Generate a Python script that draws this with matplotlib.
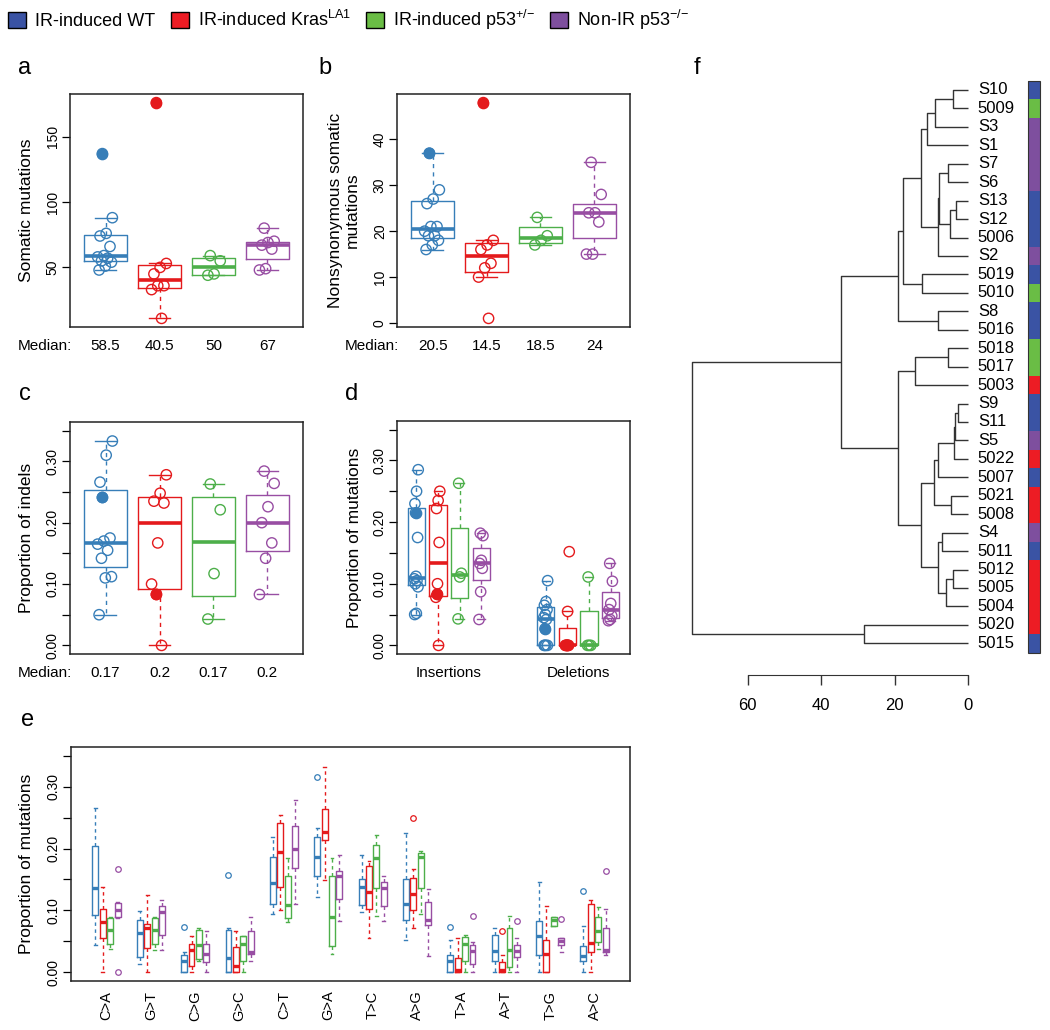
import numpy as np
import matplotlib
matplotlib.use('Agg')
import matplotlib.pyplot as plt
import matplotlib.transforms as mtransforms
from matplotlib.patches import Patch, Rectangle

plt.rcParams['font.family'] = ['Liberation Sans', 'DejaVu Sans']
plt.rcParams['mathtext.default'] = 'regular'

W, H = 1050, 1030

group_names = ['IR-induced WT', r'IR-induced Kras$^{LA1}$',
               r'IR-induced p53$^{{+}/{-}}$', r'Non-IR p53$^{{-}/{-}}$']
box_cols = ['#377EB8', '#E41A1C', '#4DAF4A', '#984EA3']
key_cols = ['#3A53A4', '#ED1C24', '#6ABD45', '#7E4F9E']
# first value of WT and Kras lists is the highlighted (filled) sample
highlight = [True, True, False, False]

# a: somatic mutations
som_wt = [137, 88, 76, 74, 66, 59, 58, 57, 55, 54, 51, 48]
som_kras = [176, 53, 50, 45, 36, 36, 33, 11]
som_p53het = [59, 55, 45, 44]
som_p53null = [80, 70, 69, 67, 64, 49, 48]

# b: nonsynonymous somatic mutations
nonsyn_wt = [37, 29, 27, 26, 21, 21, 20, 19, 19, 18, 17, 16]
nonsyn_kras = [48, 18, 17, 16, 13, 12, 10, 1]
nonsyn_p53het = [23, 19, 18, 17]
nonsyn_p53null = [35, 28, 24, 24, 22, 15, 15]

# c: proportion of indels
indel_wt = [0.241, 0.333, 0.31, 0.266, 0.175, 0.17, 0.165, 0.155, 0.142, 0.112, 0.11, 0.05]
indel_kras = [0.083, 0.278, 0.248, 0.235, 0.232, 0.167, 0.1, 0.0]
indel_p53het = [0.263, 0.221, 0.117, 0.043]
indel_p53null = [0.284, 0.264, 0.226, 0.2, 0.167, 0.142, 0.083]

# d: insertions / deletions
ins_wt = [0.215, 0.285, 0.25, 0.23, 0.175, 0.112, 0.108, 0.105, 0.1, 0.095, 0.052, 0.05]
ins_kras = [0.083, 0.25, 0.235, 0.222, 0.167, 0.1, 0.078, 0.0]
ins_p53het = [0.263, 0.117, 0.111, 0.043]
ins_p53null = [0.182, 0.178, 0.138, 0.133, 0.125, 0.087, 0.042]
del_wt = [0.027, 0.105, 0.071, 0.065, 0.058, 0.05, 0.045, 0.042, 0.0, 0.0, 0.0, 0.0]
del_kras = [0.0, 0.152, 0.055, 0.0, 0.0, 0.0, 0.0, 0.0]
del_p53het = [0.111, 0.0, 0.0, 0.0]
del_p53null = [0.133, 0.104, 0.068, 0.058, 0.048, 0.042, 0.04]

# e: substitution spectrum, box statistics per group (12 classes)
subs = ['C>A', 'G>T', 'C>G', 'G>C', 'C>T', 'G>A', 'T>C', 'A>G', 'T>A', 'A>T', 'T>G', 'A>C']
e_lo = [[0.044, 0.014, 0.0, 0.0, 0.095, 0.122, 0.098, 0.053, 0.0, 0.0, 0.0, 0.0],
        [0.0, 0.0, 0.0, 0.0, 0.100, 0.149, 0.056, 0.072, 0.0, 0.0, 0.0, 0.0],
        [0.038, 0.036, 0.019, 0.0, 0.082, 0.030, 0.091, 0.095, 0.0, 0.0, 0.075, 0.038],
        [0.087, 0.036, 0.0, 0.019, 0.110, 0.083, 0.083, 0.026, 0.0, 0.0, 0.033, 0.028]]
e_q1 = [[0.093, 0.025, 0.0, 0.0, 0.110, 0.156, 0.108, 0.084, 0.0, 0.019, 0.028, 0.019],
        [0.055, 0.039, 0.011, 0.0, 0.138, 0.213, 0.102, 0.100, 0.0, 0.0, 0.0, 0.033],
        [0.045, 0.046, 0.022, 0.018, 0.087, 0.042, 0.136, 0.137, 0.019, 0.009, 0.075, 0.049],
        [0.090, 0.060, 0.017, 0.030, 0.168, 0.119, 0.107, 0.076, 0.014, 0.024, 0.044, 0.033]]
e_med = [[0.136, 0.063, 0.019, 0.023, 0.145, 0.187, 0.138, 0.110, 0.018, 0.035, 0.059, 0.026],
         [0.082, 0.071, 0.036, 0.011, 0.194, 0.227, 0.130, 0.126, 0.003, 0.003, 0.029, 0.048],
         [0.069, 0.069, 0.044, 0.046, 0.109, 0.090, 0.184, 0.186, 0.046, 0.036, 0.084, 0.066],
         [0.100, 0.098, 0.029, 0.033, 0.200, 0.155, 0.137, 0.084, 0.034, 0.034, 0.051, 0.036]]
e_q3 = [[0.204, 0.084, 0.028, 0.069, 0.186, 0.218, 0.151, 0.151, 0.028, 0.060, 0.083, 0.043],
        [0.103, 0.078, 0.045, 0.041, 0.241, 0.264, 0.172, 0.153, 0.023, 0.017, 0.053, 0.110],
        [0.087, 0.087, 0.068, 0.058, 0.155, 0.156, 0.205, 0.192, 0.057, 0.072, 0.089, 0.090],
        [0.112, 0.107, 0.045, 0.066, 0.237, 0.164, 0.146, 0.113, 0.044, 0.044, 0.056, 0.071]]
e_hi = [[0.265, 0.099, 0.033, 0.072, 0.219, 0.233, 0.189, 0.225, 0.052, 0.072, 0.146, 0.075],
        [0.138, 0.125, 0.058, 0.067, 0.254, 0.332, 0.180, 0.167, 0.055, 0.028, 0.107, 0.117],
        [0.090, 0.090, 0.072, 0.059, 0.184, 0.184, 0.222, 0.196, 0.060, 0.091, 0.090, 0.106],
        [0.114, 0.117, 0.067, 0.090, 0.278, 0.189, 0.156, 0.134, 0.049, 0.055, 0.056, 0.102]]
# outliers as (class index, value)
e_out = [[(2, 0.073), (3, 0.158), (5, 0.316), (8, 0.073), (11, 0.131)],
         [(7, 0.250), (9, 0.067)],
         [],
         [(0, 0.167), (0, 0.0), (8, 0.091), (9, 0.083), (10, 0.086), (11, 0.163)]]

# f: dendrogram
leaves = ['S10', '5009', 'S3', 'S1', 'S7', 'S6', 'S13', 'S12', '5006', 'S2', '5019',
          '5010', 'S8', '5016', '5018', '5017', '5003', 'S9', 'S11', 'S5', '5022',
          '5007', '5021', '5008', 'S4', '5011', '5012', '5005', '5004', '5020', '5015']
leaf_group = [0, 2, 3, 3, 3, 3, 0, 0, 0, 3, 0, 2, 0, 0, 2, 2, 1, 0, 0, 3, 1,
              0, 1, 1, 3, 0, 1, 1, 1, 1, 0]
# (left, right, height); ints refer to earlier merges
merges = [('S10', '5009', 4.2), (0, 'S3', 9.0), (1, 'S1', 11.3), ('S7', 'S6', 5.4),
          ('S13', 'S12', 3.3), (4, '5006', 4.9), (3, 5, 7.9), (6, 'S2', 8.3),
          (2, 7, 12.9), ('5019', '5010', 12.5), (8, 9, 17.8), ('S8', '5016', 8.3),
          (10, 11, 19.1), ('5018', '5017', 5.5), (13, '5003', 14.5), ('S9', 'S11', 2.6),
          (15, 'S5', 3.4), (16, '5022', 3.8), (17, '5007', 8.1), ('5021', '5008', 4.7),
          (18, 19, 9.2), ('S4', '5011', 7.0), ('5012', '5005', 4.2), (22, '5004', 6.1),
          (21, 23, 8.3), (20, 24, 12.9), (14, 25, 19.0), (12, 26, 34.6),
          ('5020', '5015', 28.3), (27, 28, 75.1)]


def r_box_stats(values):
    # Tukey hinges + 1.5 IQR whiskers, like R's boxplot.stats
    v = np.sort(np.asarray(values, float))
    n = len(v)
    n4 = np.floor((n + 3) / 2) / 2
    d = np.array([1, n4, (n + 1) / 2, n + 1 - n4, n])
    fn = 0.5 * (v[np.floor(d).astype(int) - 1] + v[np.ceil(d).astype(int) - 1])
    iqr = fn[3] - fn[1]
    inside = v[(v >= fn[1] - 1.5 * iqr) & (v <= fn[3] + 1.5 * iqr)]
    return dict(med=fn[2], q1=fn[1], q3=fn[3], whislo=inside.min(), whishi=inside.max(), fliers=[])


def jitter(n, amp):
    return amp * (((np.arange(n) * 0.618034 + 0.3) % 1) * 2 - 1)


def draw_box(ax, st, pos, col, width, lw=1.0, medlw=2.6, dash=(3, 3), flier_ms=4):
    ax.bxp([st], positions=[pos], widths=width, capwidths=width * 0.5, manage_ticks=False,
           showfliers=True,
           boxprops=dict(color=col, lw=lw),
           whiskerprops=dict(color=col, lw=lw, linestyle=(0, dash)),
           capprops=dict(color=col, lw=lw),
           medianprops=dict(color=col, lw=medlw, solid_capstyle='butt'),
           flierprops=dict(marker='o', markersize=flier_ms, markerfacecolor='none',
                           markeredgecolor=col, markeredgewidth=0.9))


def strip_panel(ax, data, positions, width=0.8, amp=0.15):
    for g, (vals, pos) in enumerate(zip(data, positions)):
        col = box_cols[g % 4]
        draw_box(ax, r_box_stats(vals), pos, col, width)
        x = pos + jitter(len(vals), amp)
        ax.scatter(x, vals, s=55, facecolors='none', edgecolors=col, linewidths=1.0, zorder=3)
        if highlight[g % 4]:
            ax.scatter(x[:1], vals[:1], s=55, facecolors=col, edgecolors=col, linewidths=1.0, zorder=4)


def style_axes(ax, ticks, labels):
    for s in ax.spines.values():
        s.set_linewidth(1.1)
        s.set_color('#222222')
    ax.set_xticks([])
    ax.set_yticks(ticks, labels, rotation=90, va='center')
    ax.tick_params(axis='y', length=5.8, width=0.9, pad=1.5, labelsize=10)


def add_axes(l, t, r, b):
    return fig.add_axes([l / W, 1 - b / H, (r - l) / W, (b - t) / H])


def padded(lo, hi):
    e = (hi - lo) * 0.04
    return lo - e, hi + e


def median_row(ax, data, positions):
    tr = mtransforms.blended_transform_factory(ax.transData, ax.transAxes)
    ax.text(-0.223, -0.082, 'Median:', transform=ax.transAxes, ha='left', va='center', fontsize=11)
    for vals, pos in zip(data, positions):
        m = np.round(np.median(vals), 2)
        ax.text(pos, -0.082, f'{m:g}', transform=tr, ha='center', va='center', fontsize=11)


fig = plt.figure(figsize=(W / 100, H / 100), dpi=100)

prop_ticks = np.arange(0, 0.351, 0.05)
prop_labels = ['0.00', '', '0.10', '', '0.20', '', '0.30', '']
four = [1, 2, 3, 4]

# a
ax_a = add_axes(70, 94, 303, 327)
data_a = [som_wt, som_kras, som_p53het, som_p53null]
strip_panel(ax_a, data_a, four)
allv = np.concatenate(data_a)
ax_a.set_ylim(*padded(allv.min(), allv.max()))
ax_a.set_xlim(0.34, 4.66)
style_axes(ax_a, [50, 100, 150], ['50', '100', '150'])
median_row(ax_a, data_a, four)

# b
ax_b = add_axes(397, 94, 630, 327)
data_b = [nonsyn_wt, nonsyn_kras, nonsyn_p53het, nonsyn_p53null]
strip_panel(ax_b, data_b, four)
allv = np.concatenate(data_b)
ax_b.set_ylim(*padded(allv.min(), allv.max()))
ax_b.set_xlim(0.34, 4.66)
style_axes(ax_b, [0, 10, 20, 30, 40], ['0', '10', '20', '30', '40'])
median_row(ax_b, data_b, four)

# c
ax_c = add_axes(70, 422, 303, 654)
data_c = [indel_wt, indel_kras, indel_p53het, indel_p53null]
strip_panel(ax_c, data_c, four)
ax_c.set_ylim(*padded(0, 0.35))
ax_c.set_xlim(0.34, 4.66)
style_axes(ax_c, prop_ticks, prop_labels)
median_row(ax_c, data_c, four)

# d
ax_d = add_axes(397, 421, 630, 654)
data_d = [ins_wt, ins_kras, ins_p53het, ins_p53null, del_wt, del_kras, del_p53het, del_p53null]
pos_d = [1, 2, 3, 4, 7, 8, 9, 10]
strip_panel(ax_d, data_d, pos_d, amp=0.1)
ax_d.set_ylim(*padded(0, 0.35))
ax_d.set_xlim(0.1, 10.9)
style_axes(ax_d, prop_ticks, prop_labels)
tr_d = mtransforms.blended_transform_factory(ax_d.transData, ax_d.transAxes)
for x, lab in [(2.5, 'Insertions'), (8.5, 'Deletions')]:
    ax_d.text(x, -0.082, lab, transform=tr_d, ha='center', va='center', fontsize=11)

# e
ax_e = add_axes(71, 747, 630, 981)
for g in range(4):
    for k in range(12):
        st = dict(whislo=e_lo[g][k], q1=e_q1[g][k], med=e_med[g][k], q3=e_q3[g][k],
                  whishi=e_hi[g][k], fliers=[v for c, v in e_out[g] if c == k])
        draw_box(ax_e, st, 6 * k + g + 1, box_cols[g], 0.8, lw=1.0, medlw=2.4, dash=(2.5, 2.5), flier_ms=4)
ax_e.set_ylim(*padded(0, 0.35))
ax_e.set_xlim(-2.3, 73.3)
style_axes(ax_e, prop_ticks, prop_labels)
ax_e.set_xticks(6 * np.arange(12) + 2.5, subs, rotation=90)
ax_e.tick_params(axis='x', length=0, pad=7, labelsize=10.5)

# f dendrogram
ax_f = add_axes(680, 40, 1045, 730)
ax_f.set_xlim(78.5, -21.0)
ax_f.set_ylim(34.7, -2.71)
leaf_row = {name: i for i, name in enumerate(leaves)}
nodes = []


def node(ref):
    if isinstance(ref, str):
        return leaf_row[ref], 0.0
    return nodes[ref]


for left, right, h in merges:
    (yl, hl), (yr, hr) = node(left), node(right)
    ax_f.plot([hl, h, h, hr], [yl, yl, yr, yr], color='#333333', lw=1.0, solid_capstyle='butt')
    nodes.append(((yl + yr) / 2, h))

rows = np.arange(len(leaves))
for i, name in enumerate(leaves):
    ax_f.text(-2.7, i, name, ha='left', va='center', fontsize=12)
ax_f.barh(rows, 3.2, left=-19.6, height=1.0, color=[key_cols[g] for g in leaf_group], linewidth=0)
ax_f.add_patch(Rectangle((-19.6, -0.5), 3.2, len(leaves), fill=False, ec='#333333', lw=0.8))
for s in ['top', 'right', 'left']:
    ax_f.spines[s].set_visible(False)
ax_f.spines['bottom'].set_position(('data', 31.74))
ax_f.spines['bottom'].set_bounds(0, 60)
ax_f.spines['bottom'].set_color('#333333')
ax_f.set_yticks([])
ax_f.set_xticks([0, 20, 40, 60])
ax_f.tick_params(axis='x', length=7.2, width=1.0, color='#333333', pad=9, labelsize=12)
ax_f.patch.set_visible(False)

# y labels
fig.text(27 / W, 1 - 210 / H, 'Somatic mutations', rotation=90, ha='center', va='center', fontsize=12.5)
fig.text(344 / W, 1 - 210 / H, 'Nonsynonymous somatic\nmutations', rotation=90, ha='center',
         va='center', fontsize=12.5, multialignment='center')
fig.text(27 / W, 1 - 538 / H, 'Proportion of indels', rotation=90, ha='center', va='center', fontsize=12.5)
fig.text(354 / W, 1 - 538 / H, 'Proportion of mutations', rotation=90, ha='center', va='center', fontsize=12.5)
fig.text(27 / W, 1 - 864 / H, 'Proportion of mutations', rotation=90, ha='center', va='center', fontsize=12.5)

# panel letters
for lab, x, y in [('a', 25, 74), ('b', 325, 74), ('c', 25, 400), ('d', 352, 400),
                  ('e', 28, 726), ('f', 697, 74)]:
    fig.text(x / W, 1 - y / H, lab, ha='center', va='baseline', fontsize=17)

# legend
handles = [Patch(facecolor=c, edgecolor='black', linewidth=1.0) for c in key_cols]
fig.legend(handles, group_names, loc='upper left', bbox_to_anchor=(8 / W, 1 - 8 / H), ncol=4,
           frameon=False, borderpad=0, borderaxespad=0, handlelength=1.0, handleheight=1.0,
           handletextpad=0.5, columnspacing=0.85, fontsize=13)

fig.savefig('out.png', dpi=100)
